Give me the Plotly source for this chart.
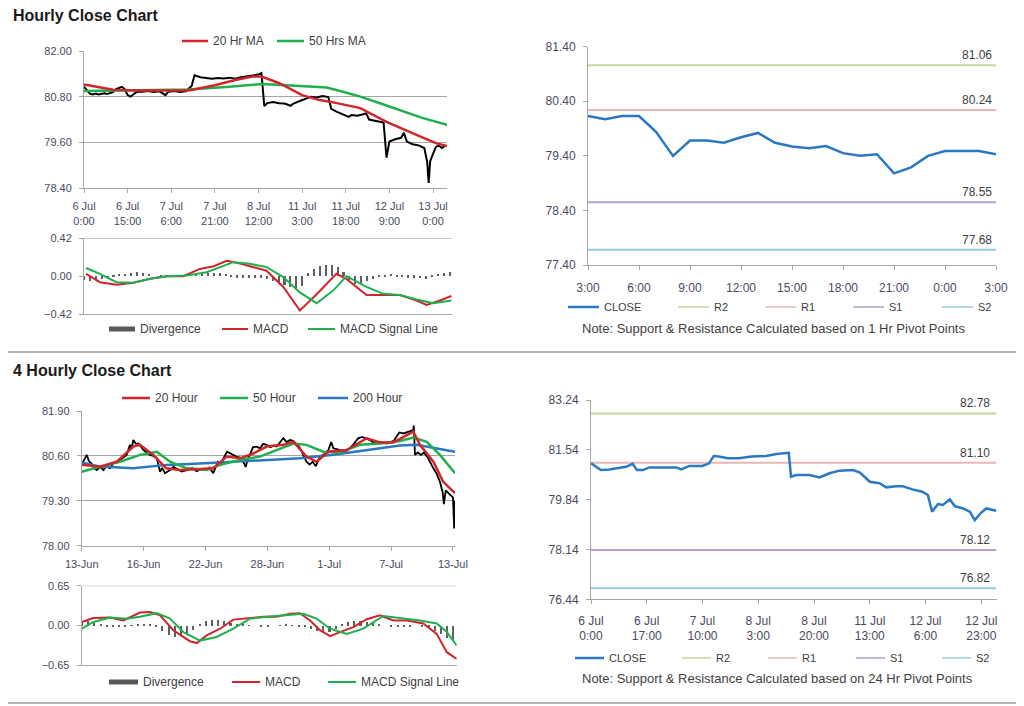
import plotly.graph_objects as go

# The page body adds an 8px offset, so the figure is 8px smaller and every
# reference pixel position is shifted by that offset.
OFF = 8
FW, FH = 1024 - OFF, 706 - OFF
FONT = "Arial, Liberation Sans, sans-serif"
TXT = "#404040"
TICK = "#4a4a5e"
GRID = "#a6a6a6"
RED = "#d0262b"
GREEN = "#1fb04e"
BLUE = "#2a78c2"
DIV = "#5f5f5f"
PIV_COLORS = {"R2": "#c3d69b", "R1": "#e6b9b8", "S1": "#b3a2c7", "S2": "#93cddd"}

# ---------------- Hourly close chart ----------------
h_idx = [0, 1, 2, 3, 4, 5, 6, 7, 8, 9, 10, 11, 12, 13, 14, 15, 16, 17, 18, 20, 22, 24, 26, 28, 29, 31, 33, 35,
         36, 37, 38, 39, 40, 42, 44, 46, 48, 50, 52, 54, 56, 58, 60, 61, 62, 63, 65, 67, 69, 71, 72, 74, 76, 78,
         80, 82, 84, 85, 87, 89, 91, 92, 94, 96, 97, 98, 100, 102, 103, 104, 105, 107, 109, 110, 111, 113, 115,
         117, 118, 118.5, 119, 120, 121, 122, 123, 124]
h_close = [81.06, 80.98, 80.88, 80.86, 80.88, 80.86, 80.87, 80.89, 80.87, 80.90, 80.92, 81.00, 81.04, 81.06,
           81.00, 80.84, 80.80, 80.86, 80.92, 80.93, 80.95, 80.92, 80.94, 80.84, 80.93, 80.95, 80.92, 80.94,
           81.00, 81.08, 81.36, 81.33, 81.31, 81.29, 81.27, 81.29, 81.28, 81.30, 81.27, 81.31, 81.33, 81.35,
           81.38, 81.42, 80.55, 80.63, 80.66, 80.63, 80.62, 80.56, 80.62, 80.68, 80.75, 80.80, 80.78, 80.82,
           80.79, 80.48, 80.40, 80.33, 80.27, 80.32, 80.30, 80.34, 80.36, 80.20, 80.17, 80.15, 80.12, 79.20,
           79.62, 79.68, 79.72, 79.85, 79.62, 79.55, 79.52, 79.45, 79.08, 78.53, 79.10, 79.30, 79.48, 79.52,
           79.45, 79.50]
h_ma20_idx = [0, 10, 18, 36, 45, 52, 58, 61, 67, 75, 81, 87, 95, 104, 114.5, 121, 124.8]
h_ma20 = [81.12, 80.98, 80.96, 80.96, 81.10, 81.24, 81.33, 81.33, 81.16, 80.84, 80.71, 80.63, 80.50, 80.14,
          79.79, 79.58, 79.50]
h_ma50_idx = [0, 15, 36, 50, 61, 65, 75, 83.5, 89, 95, 102, 108.7, 116, 124.8]
h_ma50 = [80.95, 80.97, 80.99, 81.06, 81.13, 81.12, 81.07, 81.04, 80.93, 80.80, 80.62, 80.45, 80.25, 80.06]
h_tick_idx = [0, 15, 30, 45, 60, 75, 90, 105, 120]
h_tick_text = ["6 Jul<br>0:00", "6 Jul<br>15:00", "7 Jul<br>6:00", "7 Jul<br>21:00", "8 Jul<br>12:00",
               "11 Jul<br>3:00", "11 Jul<br>18:00", "12 Jul<br>9:00", "13 Jul<br>0:00"]
h_price_ticks = [78.40, 79.60, 80.80, 82.00]
h_legend = ["20 Hr MA", "50 Hrs MA"]

# hourly MACD
hm_macd_idx = [0.7, 5.4, 11, 16.7, 22.4, 28, 33.7, 39.3, 44, 48.4, 52.9, 57.4, 61.9, 67.6, 73.2, 78.9, 85.6,
               89, 95.8, 101.5, 107.1, 112.8, 116.2, 120.7, 124.6]
hm_macd = [0.026, -0.067, -0.096, -0.074, -0.03, 0.0, 0.0, 0.08, 0.11, 0.17, 0.14, 0.10, 0.06, -0.12, -0.38,
           -0.20, 0.026, -0.03, -0.21, -0.21, -0.21, -0.27, -0.32, -0.27, -0.22]
hm_sig_idx = [0.7, 5.4, 11, 16.7, 22.4, 28, 34.8, 41.6, 50.6, 56.3, 61.9, 67.6, 73.2, 78.9, 84.5, 89, 95.8,
              101.5, 107.1, 112.8, 118.4, 124.6]
hm_sig = [0.09, 0.026, -0.067, -0.074, -0.03, 0.0, 0.007, 0.044, 0.155, 0.137, 0.10, -0.01, -0.18, -0.30,
          -0.16, 0.0, -0.12, -0.196, -0.21, -0.26, -0.30, -0.27]
hm_div_idx = [0, 2, 4, 6, 8, 10, 12, 14, 16, 18, 20, 22, 24, 26, 28, 30, 32, 34, 36, 38, 40, 42, 44, 46, 48,
              50, 52, 54, 56, 58, 60, 62, 64, 66, 68, 70, 72, 74, 76, 78, 80, 82, 84, 86, 88, 90, 92, 94, 96,
              98, 100, 102, 104, 106, 108, 110, 112, 114, 116, 118, 120, 122, 124]
hm_div = [-0.05, -0.06, -0.05, -0.04, -0.03, -0.01, 0.01, 0.02, 0.03, 0.04, 0.03, 0.01, 0.0, 0.005, 0.005,
          0.0, -0.005, 0.0, 0.01, 0.02, 0.03, 0.03, 0.035, 0.03, 0.02, -0.01, -0.02, -0.02, -0.02, -0.02,
          -0.02, -0.04, -0.06, -0.08, -0.10, -0.12, -0.14, -0.11, 0.03, 0.08, 0.11, 0.12, 0.12, 0.10, 0.04,
          -0.05, -0.09, -0.10, -0.06, -0.03, -0.01, -0.01, 0.01, -0.01, -0.015, -0.02, -0.02, -0.025, -0.03,
          -0.01, 0.02, 0.03, 0.04]
hm_ticks = [-0.42, 0.00, 0.42]
macd_legend = ["Divergence", "MACD", "MACD Signal Line"]

# 1 hr pivot chart
c_hour = [0, 1, 2, 3, 4, 5, 6, 7, 8, 9, 10, 11, 12, 13, 14, 15, 16, 17, 18, 19, 20, 21, 22, 23, 24]
c_close = [80.13, 80.07, 80.13, 80.13, 79.84, 79.40, 79.68, 79.68, 79.64, 79.74, 79.82, 79.64, 79.57, 79.54,
           79.58, 79.45, 79.40, 79.43, 79.08, 79.19, 79.40, 79.49, 79.49, 79.49, 79.43]
c_level_names = ["R2", "R1", "S1", "S2"]
c_level_values = [81.06, 80.24, 78.55, 77.68]
c_tick_hour = [0, 3, 6, 9, 12, 15, 18, 21, 24]
c_tick_text = ["3:00", "6:00", "9:00", "12:00", "15:00", "18:00", "21:00", "0:00", "3:00"]
c_price_ticks = [77.40, 78.40, 79.40, 80.40, 81.40]
c_note = "Note: Support & Resistance Calculated based on 1 Hr Pivot Points"

# ---------------- 4 hourly close chart ----------------
d_bar = [0, 1.5, 2.4, 3.5, 4.8, 6, 7.3, 9, 10.5, 12, 13.7, 15.5, 17, 19, 21.8, 23.4, 24.2, 25, 26.3, 27.5,
         28.8, 30, 31.5, 33, 34.7, 36.4, 38, 39, 40.4, 42.8, 44.5, 46, 48.5, 51, 53.5, 55.8, 58, 60.6, 62,
         63.8, 66, 67.5, 68.7, 70.5, 72, 73.5, 75, 76.7, 78.4, 79.5, 80.5, 81.6, 83, 84.8, 86.5, 88, 89.7,
         91.5, 93, 94.5, 96, 97.8, 99.3, 101, 102.5, 104, 105.3, 106.7, 108, 109, 110.5, 112, 113.5, 115.5,
         117.5, 119.6, 121, 122, 124.5, 126.9, 128.5, 130, 132, 134, 136, 138, 140, 141.5, 143, 145, 148, 150,
         151.5, 152.7, 154, 156, 158, 160.8, 161, 161.6, 163, 164.5, 166, 168, 170.5, 172, 173.7, 175, 175.6,
         176.5, 177.8, 179, 180, 180.6, 181]
d_close = [80.34, 80.55, 80.63, 80.45, 80.38, 80.25, 80.19, 80.28, 80.19, 80.30, 80.24, 80.40, 80.43, 80.50,
           80.63, 80.92, 80.80, 81.06, 80.95, 80.96, 80.85, 80.77, 80.70, 80.63, 80.60, 80.53, 80.14, 80.25,
           80.10, 80.19, 80.28, 80.24, 80.15, 80.19, 80.25, 80.16, 80.22, 80.19, 80.26, 80.10, 80.43, 80.35,
           80.53, 80.72, 80.67, 80.62, 80.58, 80.55, 80.43, 80.28, 80.50, 80.63, 80.85, 80.87, 80.82, 80.95,
           80.92, 80.85, 80.90, 80.87, 80.98, 81.11, 81.00, 81.06, 81.04, 80.96, 80.88, 80.72, 80.55, 80.43,
           80.35, 80.43, 80.30, 80.58, 80.65, 80.77, 81.00, 80.82, 80.78, 80.72, 80.75, 80.82, 80.95, 81.11,
           81.15, 81.11, 81.05, 80.98, 80.96, 81.00, 80.96, 81.00, 81.05, 81.16, 81.28, 81.25, 81.30, 81.35,
           81.48, 80.63, 80.70, 80.63, 80.70, 80.53, 80.24, 80.10, 79.85, 79.55, 79.20, 79.60, 79.52, 79.45,
           79.40, 78.50, 79.30]
d_ma20_bar = [0, 8.9, 17, 25, 28.3, 34.7, 41, 47.7, 57.4, 63.8, 70.3, 76.7, 83.2, 89.7, 97.8, 102.6, 109,
              113.9, 119.6, 128.5, 138.2, 144.6, 151.1, 160.8, 164, 170.5, 175.3, 181]
d_ma20 = [80.34, 80.29, 80.43, 80.87, 80.92, 80.63, 80.24, 80.19, 80.22, 80.24, 80.58, 80.53, 80.67, 80.87,
          80.92, 81.01, 80.58, 80.43, 80.72, 80.77, 81.11, 80.99, 80.99, 81.30, 80.92, 80.43, 79.85, 79.52]
d_ma50_bar = [0, 8.9, 18.6, 28.3, 36.4, 42.8, 50.9, 60.6, 67.1, 76.7, 86.4, 96.1, 102.6, 109, 117.1, 125.2,
              134.9, 144.6, 154.3, 160.8, 167.3, 173.7, 181]
d_ma50 = [80.14, 80.29, 80.43, 80.63, 80.72, 80.43, 80.24, 80.19, 80.34, 80.48, 80.58, 80.82, 80.96, 80.92,
          80.72, 80.70, 80.92, 80.96, 81.03, 81.13, 81.01, 80.63, 80.10]
d_ma200_bar = [0, 8.9, 25, 41.2, 57.4, 73.5, 89.7, 105.8, 122, 138.2, 154.3, 162.4, 170.5, 181]
d_ma200 = [80.41, 80.29, 80.24, 80.34, 80.38, 80.43, 80.48, 80.53, 80.63, 80.77, 80.90, 80.92, 80.84, 80.72]
d_tick_bar = [0, 30, 60, 90, 120, 150, 180]
d_tick_text = ["13-Jun", "16-Jun", "22-Jun", "28-Jun", "1-Jul", "7-Jul", "13-Jul"]
d_price_ticks = [78.00, 79.30, 80.60, 81.90]
d_legend = ["20 Hour", "50 Hour", "200 Hour"]

# 4 hourly MACD
dm_macd_bar = [0, 5.7, 13.7, 20.2, 28.3, 33.1, 38, 44.4, 52.5, 55.8, 60.6, 67.1, 73.5, 80, 88, 94.5, 101,
               105.8, 110.7, 115.5, 120.4, 125.2, 131.7, 138.2, 144.6, 151.1, 157.6, 165.6, 172.1, 177, 181.8]
dm_macd = [0.055, 0.12, 0.127, 0.08, 0.21, 0.22, 0.165, -0.08, -0.26, -0.29, -0.165, -0.055, 0.094, 0.12,
           0.14, 0.14, 0.19, 0.20, 0.08, -0.08, -0.176, -0.11, -0.03, 0.10, 0.165, 0.08, 0.08, 0.03, -0.14,
           -0.44, -0.55]
dm_sig_bar = [0, 5.7, 13.7, 21.8, 28.3, 36.4, 42.8, 49.3, 57.4, 65.4, 73.5, 81.6, 89.7, 99.4, 107.5, 113.9,
              120.4, 128.5, 136.5, 146.2, 154.3, 164, 172.1, 177, 181.8]
dm_sig = [-0.055, 0.055, 0.127, 0.11, 0.14, 0.20, 0.11, -0.11, -0.25, -0.19, -0.055, 0.11, 0.14, 0.165,
          0.19, 0.11, -0.055, -0.14, -0.055, 0.154, 0.12, 0.08, 0.03, -0.11, -0.33]
dm_div_bar = [0, 3, 6, 9, 12, 15, 18, 21, 24, 27, 30, 33, 36, 39, 42, 45, 48, 51, 54, 57, 60, 63, 66, 69,
              72, 75, 78, 81, 84, 87, 90, 93, 96, 99, 102, 105, 108, 111, 114, 117, 120, 123, 126, 129, 132,
              135, 138, 141, 144, 147, 150, 153, 156, 159, 162, 165, 168, 171, 174, 177, 180]
dm_div = [0.06, 0.07, 0.05, 0.02, -0.01, -0.02, -0.02, -0.01, 0.01, 0.03, 0.03, 0.02, -0.02, -0.08, -0.15,
          -0.19, -0.17, -0.12, -0.07, 0.02, 0.07, 0.09, 0.10, 0.08, 0.05, 0.03, 0.02, 0.01, 0.0, -0.01, -0.01,
          0.0, 0.01, 0.02, 0.01, -0.01, -0.03, -0.06, -0.09, -0.11, -0.10, -0.05, 0.03, 0.06, 0.08, 0.08,
          0.06, 0.04, 0.02, 0.0, -0.01, -0.02, -0.02, -0.01, 0.0, -0.01, -0.03, -0.08, -0.14, -0.20, -0.25]
dm_ticks = [-0.65, 0.00, 0.65]

# 24 hr pivot chart
f_idx = [0, 3, 5.6, 8.6, 10.7, 12.7, 14, 15.8, 17.8, 21.9, 26, 27.5, 30, 34, 36, 37.4, 39, 41.7, 45, 49,
         53.4, 56.5, 59.5, 60.3, 61, 62.6, 66.6, 69.7, 72.7, 75.8, 79.9, 82, 85, 88, 90, 93, 95, 98, 101,
         102.7, 104, 105.8, 107.3, 109.4, 110.9, 113.4, 115.5, 117, 119, 120.5, 123.6]
f_close = [81.08, 80.85, 80.87, 80.91, 80.96, 81.06, 80.85, 80.85, 80.94, 80.94, 80.94, 80.87, 80.99, 80.99,
           81.08, 81.33, 81.31, 81.25, 81.25, 81.31, 81.33, 81.40, 81.44, 81.44, 80.62, 80.68, 80.68, 80.60,
           80.74, 80.83, 80.85, 80.76, 80.45, 80.40, 80.26, 80.30, 80.30, 80.19, 80.11, 80.00, 79.43, 79.69,
           79.66, 79.85, 79.62, 79.54, 79.43, 79.14, 79.40, 79.54, 79.46]
f_level_names = ["R2", "R1", "S1", "S2"]
f_level_values = [82.78, 81.10, 78.12, 76.82]
f_tick_idx = [0, 17, 34, 51, 68, 85, 102, 119]
f_tick_text = ["6 Jul<br>0:00", "6 Jul<br>17:00", "7 Jul<br>10:00", "8 Jul<br>3:00", "8 Jul<br>20:00",
               "11 Jul<br>13:00", "12 Jul<br>6:00", "12 Jul<br>23:00"]
f_price_ticks = [76.44, 78.14, 79.84, 81.54, 83.24]
f_note = "Note: Support & Resistance Calculated based on 24 Hr Pivot Points"


# ---------------- geometry helpers (reference pixel -> paper) ----------------
def px(x):
    return (x - OFF) / FW


def py(y):
    return 1 - (y - OFF) / FH


def xdom(x0, x1):
    return [px(x0), px(x1)]


def ydom(ytop, ybot):
    return [py(ybot), py(ytop)]


fig = go.Figure()


def line(x, y, color, width, xa, ya):
    fig.add_trace(go.Scatter(x=x, y=y, mode="lines", line=dict(color=color, width=width), xaxis=xa, yaxis=ya,
                             showlegend=False, hoverinfo="skip"))


# Panel A
line(h_idx, h_close, "black", 2, "x", "y")
line(h_ma50_idx, h_ma50, GREEN, 2.5, "x", "y")
line(h_ma20_idx, h_ma20, RED, 2.5, "x", "y")

# Panel B
fig.add_trace(go.Bar(x=hm_div_idx, y=hm_div, marker_color=DIV, marker_line_width=0, width=0.7, xaxis="x2",
                     yaxis="y2", showlegend=False, hoverinfo="skip"))
line(hm_macd_idx, hm_macd, RED, 2, "x2", "y2")
line(hm_sig_idx, hm_sig, GREEN, 2, "x2", "y2")

# Panel C
for nm, val in zip(c_level_names, c_level_values):
    line([c_hour[0], c_hour[-1]], [val, val], PIV_COLORS[nm], 2, "x3", "y3")
line(c_hour, c_close, BLUE, 2.5, "x3", "y3")

# Panel D
line(d_bar, d_close, "black", 1.8, "x4", "y4")
line(d_ma200_bar, d_ma200, BLUE, 2.5, "x4", "y4")
line(d_ma50_bar, d_ma50, GREEN, 2.5, "x4", "y4")
line(d_ma20_bar, d_ma20, RED, 2.5, "x4", "y4")

# Panel E
fig.add_trace(go.Bar(x=dm_div_bar, y=dm_div, marker_color=DIV, marker_line_width=0, width=1.0, xaxis="x5",
                     yaxis="y5", showlegend=False, hoverinfo="skip"))
line(dm_macd_bar, dm_macd, RED, 2, "x5", "y5")
line(dm_sig_bar, dm_sig, GREEN, 2, "x5", "y5")

# Panel F
for nm, val in zip(f_level_names, f_level_values):
    line([f_idx[0], f_idx[-1]], [val, val], PIV_COLORS[nm], 2, "x6", "y6")
line(f_idx, f_close, BLUE, 2.5, "x6", "y6")

# ---------------- axes ----------------
tf11 = dict(size=11, color=TICK, family=FONT)
tf12 = dict(size=12, color=TICK, family=FONT)


def xax(dom, rng, anchor, tickvals=None, ticktext=None, font=tf11, labels=True, standoff=4):
    d = dict(domain=dom, range=rng, anchor=anchor, showline=True, linecolor=GRID, linewidth=1, showgrid=False,
             zeroline=False, fixedrange=True, tickfont=font, ticklabelstandoff=standoff, automargin=False)
    if labels:
        d.update(tickmode="array", tickvals=tickvals, ticktext=ticktext, ticks="outside", ticklen=4,
                 tickcolor=GRID)
    else:
        d.update(showticklabels=False, ticks="")
    return d


def yax(dom, rng, anchor, tickvals, grid, font=tf11, standoff=5):
    return dict(domain=dom, range=rng, anchor=anchor, showline=True, linecolor=GRID, linewidth=1,
                showgrid=grid, gridcolor=GRID, gridwidth=1, zeroline=False, fixedrange=True,
                tickmode="array", tickvals=tickvals, tickformat=".2f", ticks="outside", ticklen=4,
                tickcolor=GRID, tickfont=font, ticklabelstandoff=standoff, automargin=False)


fig.update_layout(
    width=FW, height=FH, margin=dict(l=0, r=0, t=0, b=0, autoexpand=False), paper_bgcolor="white",
    plot_bgcolor="white", font=dict(family=FONT, color=TXT), bargap=0, barmode="relative", showlegend=False,
    xaxis=xax(xdom(84, 447), [0, 124.8], "y", h_tick_idx, h_tick_text),
    yaxis=yax(ydom(51, 188), [78.4, 82.0], "x", h_price_ticks, True),
    xaxis2=xax(xdom(84, 452), [0, 124.8], "y2", labels=False),
    yaxis2=yax(ydom(238.3, 314), [-0.42, 0.42], "x2", hm_ticks, False),
    xaxis3=xax(xdom(588, 996), [0, 24], "y3", c_tick_hour, c_tick_text, tf12, standoff=8),
    yaxis3=yax(ydom(46.7, 265), [77.4, 81.4], "x3", c_price_ticks, False, tf12),
    xaxis4=xax(xdom(81.7, 455), [0, 181], "y4", d_tick_bar, d_tick_text),
    yaxis4=yax(ydom(411, 545.7), [78.0, 81.9], "x4", d_price_ticks, True),
    xaxis5=xax(xdom(81.7, 456.7), [0, 181.8], "y5", labels=False),
    yaxis5=yax(ydom(585.7, 665), [-0.65, 0.65], "x5", dm_ticks, False),
    xaxis6=xax(xdom(591, 996.7), [0, 123.7], "y6", f_tick_idx, f_tick_text, tf12, standoff=6),
    yaxis6=yax(ydom(400, 599.3), [76.44, 83.24], "x6", f_price_ticks, False, tf12),
)

# top border lines of MACD panels
fig.add_shape(type="line", xref="x2 domain", yref="y2", x0=0, x1=1, y0=hm_ticks[-1], y1=hm_ticks[-1],
              line=dict(color=GRID, width=1))
fig.add_shape(type="line", xref="x5 domain", yref="y5", x0=0, x1=1, y0=dm_ticks[-1], y1=dm_ticks[-1],
              line=dict(color=GRID, width=1))

# section separators
for yp in (352, 703):
    fig.add_shape(type="line", xref="paper", yref="paper", x0=px(0), x1=1, y0=py(yp), y1=py(yp),
                  line=dict(color="#9a9a9a", width=1.5))


def text(x, y, s, size=12, anchor="left", color=TXT, bold=False):
    fig.add_annotation(text=f"<b>{s}</b>" if bold else s, xref="paper", yref="paper", x=px(x), y=py(y),
                       xanchor=anchor, yanchor="middle", showarrow=False,
                       font=dict(size=size, color=color, family=FONT))


def legend_line(x0, x1, y, color, label, size=12, width=2.5):
    fig.add_shape(type="line", xref="paper", yref="paper", x0=px(x0), x1=px(x1), y0=py(y), y1=py(y),
                  line=dict(color=color, width=width))
    text(x1 + 3, y, label, size)


def legend_box(x0, x1, y, label, size=12):
    fig.add_shape(type="rect", xref="paper", yref="paper", x0=px(x0), x1=px(x1), y0=py(y + 2.5),
                  y1=py(y - 2.5), fillcolor="#595959", line=dict(width=0))
    text(x1 + 3, y, label, size)


# titles
text(11, 16, "Hourly Close Chart", 16, color="#1a1a1a", bold=True)
text(11, 370, "4 Hourly Close Chart", 16, color="#1a1a1a", bold=True)

# legends
legend_line(182, 208, 41, RED, h_legend[0])
legend_line(277, 304, 41, GREEN, h_legend[1])

legend_box(109, 135, 329, macd_legend[0])
legend_line(222, 248, 329, RED, macd_legend[1], width=2)
legend_line(308, 335, 329, GREEN, macd_legend[2], width=2)

legend_line(122, 150, 398, RED, d_legend[0])
legend_line(220, 248, 398, GREEN, d_legend[1])
legend_line(318, 348, 398, BLUE, d_legend[2])

legend_box(109, 138, 682, macd_legend[0])
legend_line(232, 260, 682, RED, macd_legend[1], width=2)
legend_line(328, 356, 682, GREEN, macd_legend[2], width=2)

c_leg_x = [568, 678, 765, 853, 942]
for xs, nm in zip(c_leg_x, ["CLOSE"] + c_level_names):
    legend_line(xs, xs + 31, 307, BLUE if nm == "CLOSE" else PIV_COLORS[nm], nm, 11,
                2.5 if nm == "CLOSE" else 1.5)
f_leg_x = [575, 682, 768, 856, 942]
for xs, nm in zip(f_leg_x, ["CLOSE"] + f_level_names):
    legend_line(xs, xs + 29, 658, BLUE if nm == "CLOSE" else PIV_COLORS[nm], nm, 11,
                2.5 if nm == "CLOSE" else 1.5)

# notes
text(773, 328, c_note, 13, anchor="center")
text(777, 678, f_note, 13, anchor="center")

# pivot level labels
for val in c_level_values:
    fig.add_annotation(text=f"{val:.2f}", xref="x3", yref="y3", x=c_hour[-1], y=val, xanchor="right",
                       yanchor="bottom", xshift=-2, yshift=1, showarrow=False,
                       font=dict(size=12, color=TXT, family=FONT))
for val in f_level_values:
    fig.add_annotation(text=f"{val:.2f}", xref="x6", yref="y6", x=f_idx[-1], y=val, xanchor="right",
                       yanchor="bottom", xshift=-4, yshift=1, showarrow=False,
                       font=dict(size=12, color=TXT, family=FONT))

fig.write_html("out.html")
